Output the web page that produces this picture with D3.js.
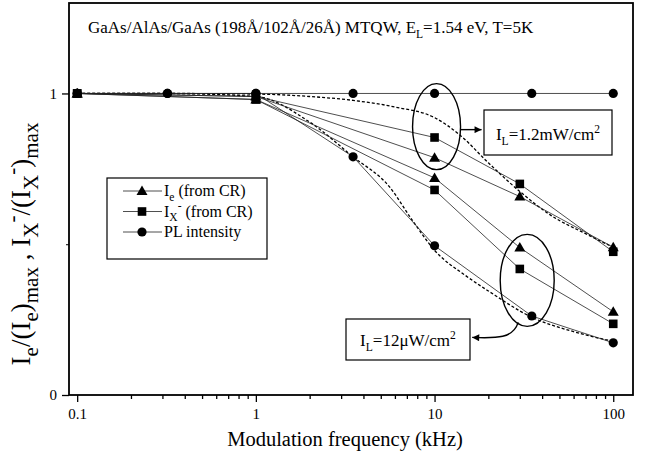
<!DOCTYPE html>
<html>
<head>
<meta charset="utf-8">
<script src="https://cdn.jsdelivr.net/npm/d3@7/dist/d3.min.js"></script>
<style>
  html, body { margin: 0; padding: 0; background: #fff; }
  svg { display: block; }
  text { font-family: "Liberation Serif", "Times New Roman", serif; fill: #000; }
</style>
</head>
<body>
<svg id="chart" width="650" height="458"></svg>
<script>
// Modulation frequencies (kHz)
const freqCR = [0.1, 1, 10, 30, 100];
const freqPL = [0.1, 0.32, 1, 3.5, 10, 35, 100];

// High excitation, I_L = 1.2 mW/cm^2
const ieHigh  = [1.0, 0.99, 0.787, 0.658, 0.49];
const ixHigh  = [1.0, 0.99, 0.854, 0.70, 0.475];
const plHigh  = [1.0, 1.0, 1.0, 1.0, 1.0, 1.0, 1.0];

// Low excitation, I_L = 12 uW/cm^2
const ieLow   = [1.0, 0.98, 0.72, 0.489, 0.276];
const ixLow   = [1.0, 0.98, 0.68, 0.418, 0.236];
const plLow   = [1.0, 1.0, 1.0, 0.79, 0.495, 0.262, 0.173];

// Fitted response curves (dashed)
const fitHighF = [0.1, 0.3, 1, 2, 3.5, 6, 10, 14, 20, 30, 45, 70, 100];
const fitHighV = [1.0, 1.0, 0.998, 0.99, 0.977, 0.955, 0.92, 0.86, 0.77, 0.675, 0.595, 0.535, 0.49];
const fitLowF  = [0.1, 0.3, 1, 2, 3.5, 5.6, 7.5, 10, 15, 20, 35, 60, 100];
const fitLowV  = [1.0, 1.0, 0.99, 0.905, 0.79, 0.69, 0.58, 0.48, 0.395, 0.345, 0.258, 0.21, 0.178];

// Axis ticks
const xMajorTicks = [0.1, 1, 10, 100];
const xTickLabels = ["0.1", "1", "10", "100"];
const yMajorTicks = [0, 1];
const yMinorTicks = [0.5];

const svg = d3.select("#chart");
const L = 69, R = 633, T = 3, B = 395;

const x = d3.scaleLog().domain([0.09, 129]).range([L, R]);
const y = d3.scaleLinear().domain([0, 1.3]).range([B, T]);

// minor ticks on the log axis
const xMinorTicks = [];
[0.1, 1, 10].forEach(d => { for (let k = 2; k <= 9; k++) xMinorTicks.push(+(d * k).toPrecision(3)); });

// rich text helper: parts = [[text, "n"|"sub"|"sup"]]
function rich(sel, parts, size, scale = 0.68) {
  let off = 0;
  parts.forEach(([s, m]) => {
    const target = m === "sub" ? 0.3 * size : m === "sup" ? -0.42 * size : 0;
    sel.append("tspan").text(s)
      .attr("dy", (target - off).toFixed(2))
      .style("font-size", (m === "n" ? size : size * scale) + "px");
    off = target;
  });
}

// x axis
const gx = svg.append("g").attr("transform", `translate(0,${B})`);
gx.call(d3.axisBottom(x).tickValues(xMinorTicks).tickSize(4).tickFormat(""));
gx.call(g => g.select(".domain").remove());
const gx2 = svg.append("g").attr("transform", `translate(0,${B})`);
gx2.call(d3.axisBottom(x).tickValues(xMajorTicks).tickSize(7).tickPadding(6)
  .tickFormat((d, i) => xTickLabels[i]));
gx2.select(".domain").remove();
gx2.selectAll("text").style("font-size", "15px").style("font-family", "Liberation Serif");
svg.selectAll(".tick line").attr("stroke", "#000").attr("stroke-width", 1.3);

// y axis
const gy = svg.append("g").attr("transform", `translate(${L},0)`);
gy.call(d3.axisLeft(y).tickValues(yMajorTicks).tickSize(7).tickPadding(5).tickFormat(d3.format("d")));
gy.select(".domain").remove();
gy.selectAll("text").style("font-size", "15px").style("font-family", "Liberation Serif");
gy.selectAll(".tick line").attr("stroke", "#000").attr("stroke-width", 1.3);
const gy2 = svg.append("g").attr("transform", `translate(${L},0)`);
gy2.call(d3.axisLeft(y).tickValues(yMinorTicks).tickSize(3).tickFormat(""));
gy2.select(".domain").remove();
gy2.selectAll(".tick line").attr("stroke", "#000").attr("stroke-width", 1);

// frame
svg.append("rect").attr("x", L).attr("y", T).attr("width", R - L).attr("height", B - T)
  .attr("fill", "none").attr("stroke", "#000").attr("stroke-width", 1.8);

// axis titles
svg.append("text").attr("x", (L + R) / 2 - 6).attr("y", 446).attr("text-anchor", "middle")
  .style("font-size", "20.5px").text("Modulation frequency (kHz)");

const yl = svg.append("text").attr("transform", "translate(30,244) rotate(-90)")
  .attr("text-anchor", "middle").style("font-size", "27px");
rich(yl, [["I", "n"], ["e", "sub"], ["/(I", "n"], ["e", "sub"], [")", "n"], ["max", "sub"],
  [" ,   I", "n"], ["X", "sub"], ["-", "sup"], ["/(I", "n"], ["X", "sub"], ["-", "sup"], [")", "n"], ["max", "sub"]], 27, 0.78);

// heading
const ht = svg.append("text").attr("x", 88).attr("y", 33).style("font-size", "17px");
rich(ht, [["GaAs/AlAs/GaAs (198Å/102Å/26Å) MTQW,  E", "n"], ["L", "sub"], ["=1.54 eV, T=5K", "n"]], 17);

// lines
const lineGen = d3.line().x(d => x(d[0])).y(d => y(d[1]));
const fitGen = d3.line().x(d => x(d[0])).y(d => y(d[1])).curve(d3.curveMonotoneX);
const zip = (a, b) => a.map((v, i) => [v, b[i]]);

[[fitHighF, fitHighV], [fitLowF, fitLowV]].forEach(([f, v]) => {
  svg.append("path").datum(zip(f, v)).attr("d", fitGen)
    .attr("fill", "none").attr("stroke", "#000").attr("stroke-width", 1.3)
    .attr("stroke-dasharray", "3,2");
});

const series = [
  { f: freqCR, v: ieHigh, shape: "tri" },
  { f: freqCR, v: ixHigh, shape: "sq" },
  { f: freqPL, v: plHigh, shape: "circ" },
  { f: freqCR, v: ieLow, shape: "tri" },
  { f: freqCR, v: ixLow, shape: "sq" },
  { f: freqPL, v: plLow, shape: "circ" }
];

series.forEach(s => {
  svg.append("path").datum(zip(s.f, s.v)).attr("d", lineGen)
    .attr("fill", "none").attr("stroke", "#222").attr("stroke-width", 0.8);
});

function marker(g, shape, cx, cy) {
  if (shape === "circ") {
    g.append("circle").attr("cx", cx).attr("cy", cy).attr("r", 4.6).attr("fill", "#000");
  } else if (shape === "sq") {
    g.append("rect").attr("x", cx - 4.3).attr("y", cy - 4.3).attr("width", 8.6).attr("height", 8.6).attr("fill", "#000");
  } else {
    g.append("path").attr("d", `M${cx},${cy - 5.5}L${cx + 5.5},${cy + 4}L${cx - 5.5},${cy + 4}Z`).attr("fill", "#000");
  }
}
const gm = svg.append("g");
series.forEach(s => s.f.forEach((f, i) => marker(gm, s.shape, x(f), y(s.v[i]))));

// legend
const lg = svg.append("g");
lg.append("rect").attr("x", 107).attr("y", 178).attr("width", 160).attr("height", 81)
  .attr("fill", "#fff").attr("stroke", "#000").attr("stroke-width", 1.2);
const legendRows = [
  { shape: "tri", parts: [["I", "n"], ["e", "sub"], [" (from CR)", "n"]] },
  { shape: "sq", parts: [["I", "n"], ["X", "sub"], ["-", "sup"], [" (from CR)", "n"]] },
  { shape: "circ", parts: [["PL intensity", "n"]] }
];
legendRows.forEach((r, i) => {
  const cy = 191 + i * 20.5;
  lg.append("line").attr("x1", 123).attr("x2", 162).attr("y1", cy).attr("y2", cy)
    .attr("stroke", "#222").attr("stroke-width", 0.8);
  marker(lg, r.shape, 142, cy);
  const t = lg.append("text").attr("x", 164).attr("y", cy + 5).style("font-size", "16px");
  rich(t, r.parts, 16, 0.72);
});

// annotations
const defs = svg.append("defs");
defs.append("marker").attr("id", "ah").attr("viewBox", "0 0 10 10").attr("refX", 10).attr("refY", 5)
  .attr("markerWidth", 9).attr("markerHeight", 7).attr("markerUnits", "userSpaceOnUse").attr("orient", "auto")
  .append("path").attr("d", "M0,0L10,5L0,10Z").attr("fill", "#000");

// high intensity group
const e1x = x(10) + 2, e1y = y(0.89);
svg.append("ellipse").attr("cx", e1x).attr("cy", e1y).attr("rx", 24).attr("ry", 43)
  .attr("fill", "none").attr("stroke", "#000").attr("stroke-width", 1.4);
svg.append("line").attr("x1", e1x + 24).attr("y1", e1y + 3).attr("x2", e1x + 45).attr("y2", e1y + 3)
  .attr("stroke", "#000").attr("stroke-width", 1.4).attr("marker-end", "url(#ah)");
svg.append("rect").attr("x", 484).attr("y", 110).attr("width", 128).attr("height", 45)
  .attr("fill", "#fff").attr("stroke", "#000").attr("stroke-width", 1.2);
const t1 = svg.append("text").attr("x", 548).attr("y", 140).attr("text-anchor", "middle").style("font-size", "17px");
rich(t1, [["I", "n"], ["L", "sub"], ["=1.2mW/cm", "n"], ["2", "sup"]], 17);

// low intensity group
const e2x = x(33), e2y = y(0.38);
svg.append("ellipse").attr("cx", e2x).attr("cy", e2y).attr("rx", 27).attr("ry", 46)
  .attr("fill", "none").attr("stroke", "#000").attr("stroke-width", 1.4);
svg.append("path")
  .attr("d", `M${e2x - 9},${e2y + 42} C${e2x - 14},${e2y + 58} ${e2x - 30},${e2y + 58} ${e2x - 55},${e2y + 57}`)
  .attr("fill", "none").attr("stroke", "#000").attr("stroke-width", 1.4).attr("marker-end", "url(#ah)");
svg.append("rect").attr("x", 346).attr("y", 319).attr("width", 124).attr("height", 41)
  .attr("fill", "#fff").attr("stroke", "#000").attr("stroke-width", 1.2);
const t2 = svg.append("text").attr("x", 408).attr("y", 346).attr("text-anchor", "middle").style("font-size", "17px");
rich(t2, [["I", "n"], ["L", "sub"], ["=12\u03bcW/cm", "n"], ["2", "sup"]], 17);
</script>
</body>
</html>
